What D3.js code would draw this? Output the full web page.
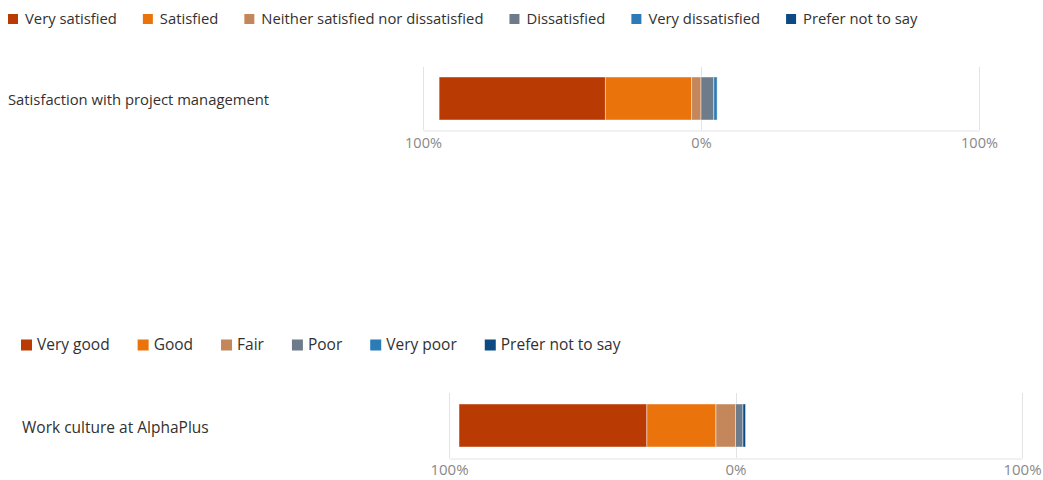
<!DOCTYPE html>
<html>
<head>
<meta charset="utf-8">
<script src="https://cdn.jsdelivr.net/npm/d3@7"></script>
<style>
  html, body { margin: 0; padding: 0; background: #ffffff; }
  svg { display: block; font-family: "Open Sans", "Segoe UI", sans-serif; }
</style>
</head>
<body>
<svg id="chart" width="1043" height="480"></svg>
<script>
// Response options and shares (%) for each question
const satisfactionQuestion = "Satisfaction with project management";
const satisfactionOptions = ["Very satisfied", "Satisfied", "Neither satisfied nor dissatisfied", "Dissatisfied", "Very dissatisfied", "Prefer not to say"];
const satisfactionValues = [59.8, 31.0, 3.4, 4.6, 1.2, 0];

const cultureQuestion = "Work culture at AlphaPlus";
const cultureOptions = ["Very good", "Good", "Fair", "Poor", "Very poor", "Prefer not to say"];
const cultureValues = [65.5, 24.1, 6.9, 2.6, 0, 0.9];

// Options 0..2 stack leftwards from zero, 3..5 rightwards
const leftCount = 3;
const optionColors = ["#b93a03", "#ea730b", "#c4875c", "#6e7b8b", "#2b7bb6", "#0b4a82"];

const tickValues = [-100, 0, 100];
const tickLabels = ["100%", "0%", "100%"];

const svg = d3.select("#chart");

function drawPanel(cfg) {
  const g = svg.append("g").style("font-size", cfg.fontSize + "px");

  // Legend: square swatch followed by label, laid out left to right
  const legend = g.append("g");
  let lx = cfg.legendX;
  cfg.options.forEach((name, i) => {
    legend.append("rect")
      .attr("x", lx).attr("y", cfg.legendY - cfg.swatch / 2)
      .attr("width", cfg.swatch).attr("height", cfg.swatch)
      .attr("fill", optionColors[i]);
    const t = legend.append("text")
      .attr("x", lx + cfg.swatch + cfg.swatchGap)
      .attr("y", cfg.legendY)
      .attr("dy", "0.35em")
      .attr("fill", "#323130")
      .text(name);
    lx += cfg.swatch + cfg.swatchGap + t.node().getComputedTextLength() + cfg.itemGap;
  });

  // Question label
  g.append("text")
    .attr("x", cfg.labelX).attr("y", cfg.labelY)
    .attr("dy", "0.35em")
    .attr("fill", "#323130")
    .text(cfg.question);

  const x = d3.scaleLinear().domain([-100, 100]).range([cfg.x0, cfg.x1]);

  // Vertical gridlines at each tick
  g.append("g").selectAll("line")
    .data(tickValues)
    .join("line")
    .attr("x1", d => Math.round(x(d)) + 0.5).attr("x2", d => Math.round(x(d)) + 0.5)
    .attr("y1", cfg.gridTop).attr("y2", cfg.axisY)
    .attr("stroke", "#e3e3e3").attr("stroke-width", 1);

  // Bottom axis
  const axis = d3.axisBottom(x)
    .tickValues(tickValues)
    .tickFormat((d, i) => tickLabels[i])
    .tickSize(0)
    .tickPadding(cfg.tickPad);
  const ax = g.append("g")
    .attr("transform", `translate(0,${Math.round(cfg.axisY) + 0.5})`)
    .call(axis);
  ax.select(".domain").attr("stroke", "#e3e3e3");
  ax.selectAll("text")
    .attr("fill", "#8a8886")
    .style("font-size", cfg.tickFontSize + "px")
    .style("font-family", "\"Open Sans\", sans-serif");

  // Diverging stacked segments
  const segs = [];
  let left = 0, right = 0;
  for (let i = leftCount - 1; i >= 0; i--) {
    segs.push({ i, a: left - cfg.values[i], b: left });
    left -= cfg.values[i];
  }
  for (let i = leftCount; i < cfg.values.length; i++) {
    segs.push({ i, a: right, b: right + cfg.values[i] });
    right += cfg.values[i];
  }
  g.append("g").selectAll("rect")
    .data(segs.filter(s => s.b > s.a))
    .join("rect")
    .attr("x", s => x(s.a))
    .attr("width", s => x(s.b) - x(s.a))
    .attr("y", cfg.barTop)
    .attr("height", cfg.barBottom - cfg.barTop)
    .attr("fill", s => optionColors[s.i])
    .attr("stroke", "rgba(255,255,255,0.45)")
    .attr("stroke-width", 1);
}

drawPanel({
  question: satisfactionQuestion,
  options: satisfactionOptions,
  values: satisfactionValues,
  fontSize: 14.8, tickFontSize: 14.5,
  legendX: 8, legendY: 19, swatch: 10, swatchGap: 7, itemGap: 26,
  labelX: 8, labelY: 100,
  x0: 423, x1: 979,
  gridTop: 67, axisY: 130,
  barTop: 77, barBottom: 120,
  tickPad: 7
});

drawPanel({
  question: cultureQuestion,
  options: cultureOptions,
  values: cultureValues,
  fontSize: 15.5, tickFontSize: 15,
  legendX: 21, legendY: 345, swatch: 11, swatchGap: 5, itemGap: 28,
  labelX: 22, labelY: 428,
  x0: 449, x1: 1022,
  gridTop: 393, axisY: 458,
  barTop: 404, barBottom: 447,
  tickPad: 6
});
</script>
</body>
</html>
